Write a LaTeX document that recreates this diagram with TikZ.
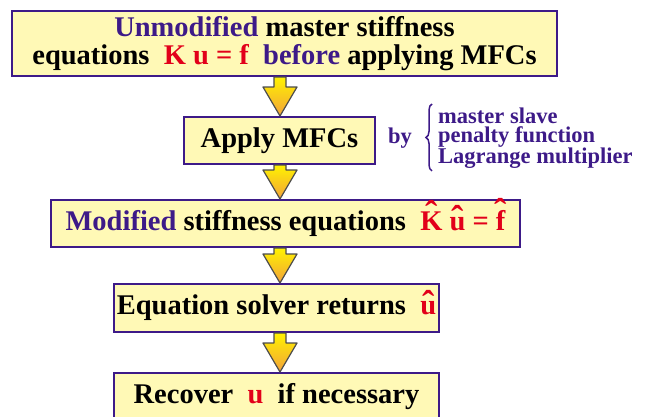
\documentclass[tikz,border=0pt]{standalone}
\usepackage{fontspec}
\setmainfont{Liberation Serif}[BoldFont={Liberation Serif Bold}]
\usetikzlibrary{calc,positioning,decorations.pathreplacing}
\definecolor{mfcpurple}{HTML}{3D1A88}
\definecolor{mfcred}{HTML}{E2001A}
\definecolor{mfcyellow}{HTML}{FFF9B6}
\definecolor{arrowtop}{HTML}{FFF200}
\definecolor{arrowbot}{HTML}{F2A23A}
\newcommand\pur[1]{\textcolor{mfcpurple}{#1}}
\newcommand\rd[1]{\textcolor{mfcred}{#1}}
\newcommand\hatted[1]{\leavevmode\ooalign{#1\cr\hidewidth
  \smash{\raisebox{\dimexpr\fontcharht\font`#1+.18em-.686em\relax}{\scalebox{1.3}{\char"02C6}}}\hidewidth\cr}}
\tikzset{
stage/.style={
  draw=mfcpurple,
  line width=2pt,
  fill=mfcyellow,
  anchor=north west,
  inner sep=0pt,
  align=center,
  font=\bfseries\fontsize{28.5}{28}\selectfont
  },
flowarr/.style={
  draw=black!70,
  line width=1.2pt,
  line join=round,
  top color=arrowtop,
  bottom color=arrowbot
  },
sidetext/.style={
  text=mfcpurple,
  inner sep=0pt,
  font=\bfseries\fontsize{22.5}{18.5}\selectfont
  }
}
\newcommand\flowarrow[2]{%
\path[flowarr] let \p1=(#1.south -| ax), \p2=(#2.north -| ax) in
  (\x1-6pt,\y1) -- (\x1+6pt,\y1) -- (\x1+6pt,\y2+29pt) -- (\x1+17pt,\y2+29pt)
  -- (\x1,\y2) -- (\x1-17pt,\y2+29pt) -- (\x1-6pt,\y2+29pt) -- cycle;}

\begin{document}
\begin{tikzpicture}[x=1pt,y=-1pt]
\useasboundingbox (0,0) rectangle (647,416);

\node[stage,minimum width=545pt,minimum height=65pt] (unmod) at (11,10)
  {\pur{Unmodified} master stiffness\\
   equations\ \ \rd{K\ u\ =\ f}\ \ \pur{before} applying MFCs};
\node[stage,minimum width=191pt,minimum height=47pt] (apply) at (183,116)
  {Apply MFCs};
\node[stage,minimum width=469pt,minimum height=47pt] (modif) at (50,199)
  {\pur{Modified} stiffness equations\ \ \rd{\hatted{K}\ \hatted{u}\ =\ \hatted{f}}};
\node[stage,minimum width=325pt,minimum height=48pt] (solve) at (113,283)
  {Equation solver returns\ \ \rd{\hatted{u}}};
\node[stage,minimum width=325pt,minimum height=48pt] (recov) at (113,372)
  {Recover\ \ \rd{u}\ \ if necessary};

\coordinate (ax) at (280,0);
\flowarrow{unmod}{apply}
\flowarrow{apply}{modif}
\flowarrow{modif}{solve}
\flowarrow{solve}{recov}

\node[sidetext,anchor=base west] (by) at (388,143) {by};
\node[sidetext,anchor=north west,align=left] (opts) at (438,108)
  {master slave\\penalty function\\Lagrange multiplier};
\draw[mfcpurple,line width=1.5pt,decorate,decoration={brace,amplitude=6pt}]
  ([xshift=-6pt,yshift=-2pt]opts.south west) -- ([xshift=-6pt,yshift=4pt]opts.north west);

\end{tikzpicture}
\end{document}
